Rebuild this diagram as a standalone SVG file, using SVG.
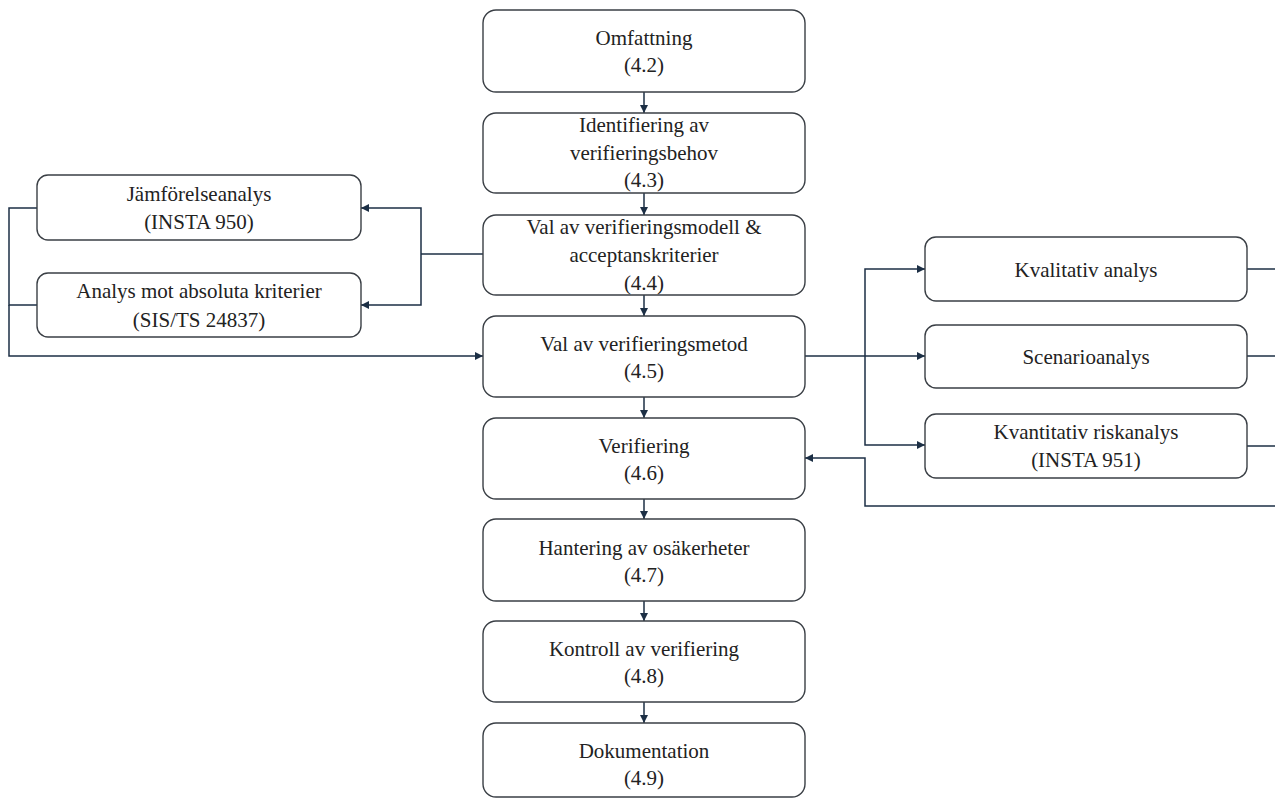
<svg xmlns="http://www.w3.org/2000/svg" width="1275" height="798" viewBox="0 0 1275 798">
<defs>
<marker id="ah" viewBox="0 0 10 10" refX="10" refY="5" markerWidth="8" markerHeight="8" markerUnits="userSpaceOnUse" orient="auto">
<path d="M0,0 L10,5 L0,10 z" fill="#1c2f45"/>
</marker>
<style>
.box{fill:#fff;stroke:#3a3f45;stroke-width:1.4}
.t{font-family:'Liberation Serif','Times New Roman','DejaVu Serif',serif;font-size:21px;fill:#222;text-anchor:middle}
.c{fill:none;stroke:#1c2f45;stroke-width:1.5}
.ca{fill:none;stroke:#1c2f45;stroke-width:1.5;marker-end:url(#ah)}
</style>
</defs>
<rect width="1275" height="798" fill="#fff"/>
<g id="connectors">
<line class="ca" x1="644" y1="92" x2="644" y2="113"/>
<line class="ca" x1="644" y1="193" x2="644" y2="215"/>
<line class="ca" x1="644" y1="295" x2="644" y2="316"/>
<line class="ca" x1="644" y1="397" x2="644" y2="418"/>
<line class="ca" x1="644" y1="499" x2="644" y2="519"/>
<line class="ca" x1="644" y1="601" x2="644" y2="621"/>
<line class="ca" x1="644" y1="702" x2="644" y2="723"/>
<polyline class="c" points="483,254 421,254"/>
<polyline class="ca" points="421,254 421,208 361,208"/>
<polyline class="ca" points="421,254 421,305 361,305"/>
<polyline class="c" points="37,208 9,208 9,305 37,305"/>
<polyline class="ca" points="9,305 9,356 483,356"/>
<line class="ca" x1="805" y1="356" x2="925" y2="356"/>
<polyline class="ca" points="865,356 865,269 925,269"/>
<polyline class="ca" points="865,356 865,445 925,445"/>
<line class="c" x1="1247" y1="269" x2="1275" y2="269"/>
<line class="c" x1="1247" y1="356" x2="1275" y2="356"/>
<line class="c" x1="1247" y1="446" x2="1275" y2="446"/>
<polyline class="ca" points="1275,506 865,506 865,458 805,458"/>
</g>
<g id="n1"><rect class="box" x="483" y="10" width="322" height="82" rx="13"/><text class="t" x="644" y="45" font-family="Liberation Serif, serif">Omfattning</text><text class="t" x="644" y="72">(4.2)</text></g>
<g id="n2"><rect class="box" x="483" y="113" width="322" height="80" rx="13"/><text class="t" x="644" y="132">Identifiering av</text><text class="t" x="644" y="160">verifieringsbehov</text><text class="t" x="644" y="187">(4.3)</text></g>
<g id="n3"><rect class="box" x="483" y="215" width="322" height="80" rx="13"/><text class="t" x="644" y="234">Val av verifieringsmodell &amp;</text><text class="t" x="644" y="262">acceptanskriterier</text><text class="t" x="644" y="290">(4.4)</text></g>
<g id="n4"><rect class="box" x="483" y="316" width="322" height="81" rx="13"/><text class="t" x="644" y="351">Val av verifieringsmetod</text><text class="t" x="644" y="378">(4.5)</text></g>
<g id="n5"><rect class="box" x="483" y="418" width="322" height="81" rx="13"/><text class="t" x="644" y="453">Verifiering</text><text class="t" x="644" y="480">(4.6)</text></g>
<g id="n6"><rect class="box" x="483" y="519" width="322" height="82" rx="13"/><text class="t" x="644" y="555">Hantering av osäkerheter</text><text class="t" x="644" y="582">(4.7)</text></g>
<g id="n7"><rect class="box" x="483" y="621" width="322" height="81" rx="13"/><text class="t" x="644" y="656">Kontroll av verifiering</text><text class="t" x="644" y="683">(4.8)</text></g>
<g id="n8"><rect class="box" x="483" y="723" width="322" height="74" rx="13"/><text class="t" x="644" y="758">Dokumentation</text><text class="t" x="644" y="785">(4.9)</text></g>
<g id="l1"><rect class="box" x="37" y="175" width="324" height="65" rx="11"/><text class="t" x="199" y="201">Jämförelseanalys</text><text class="t" x="199" y="229">(INSTA 950)</text></g>
<g id="l2"><rect class="box" x="37" y="273" width="324" height="64" rx="11"/><text class="t" x="199" y="298">Analys mot absoluta kriterier</text><text class="t" x="199" y="327">(SIS/TS 24837)</text></g>
<g id="r1"><rect class="box" x="925" y="237" width="322" height="64" rx="11"/><text class="t" x="1086" y="277">Kvalitativ analys</text></g>
<g id="r2"><rect class="box" x="925" y="325" width="322" height="63" rx="11"/><text class="t" x="1086" y="364">Scenarioanalys</text></g>
<g id="r3"><rect class="box" x="925" y="414" width="322" height="64" rx="11"/><text class="t" x="1086" y="439">Kvantitativ riskanalys</text><text class="t" x="1086" y="467">(INSTA 951)</text></g>
</svg>
